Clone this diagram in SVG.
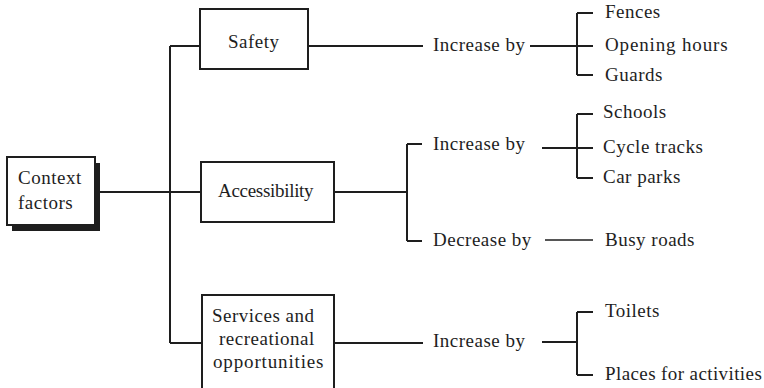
<svg xmlns="http://www.w3.org/2000/svg" width="764" height="388" viewBox="0 0 764 388">
<style>
svg text, text{font-family:'Liberation Serif','Times New Roman',serif !important;font-size:19px;fill:#1e1e1e;letter-spacing:0.5px}
.box{fill:#fff;stroke:#1e1e1e;stroke-width:2}
.ln{stroke:#1e1e1e;stroke-width:2;fill:none}
.thin{stroke:#1e1e1e;stroke-width:1.3;fill:none}
text.wide{letter-spacing:0.85px}
text.pl{letter-spacing:0.4px}
text.tight{letter-spacing:-0.3px}
</style>
<rect width="764" height="388" fill="#fff"/>
<g id="connectors">
<path class="ln" d="M95 192H201"/>
<path class="ln" d="M170 46V343M170 46H200M170 343H202"/>
<path class="ln" d="M308 46H423"/>
<path class="ln" d="M530 46H593M577 13V75M577 13H593M577 75H593"/>
<path class="ln" d="M334 192H407M407 144V241M407 144H422M407 241H422"/>
<path class="ln" d="M542 148H593M577 114V178M577 114H593M577 178H593"/>
<path class="thin" d="M545 240H593"/>
<path class="ln" d="M334 343H423"/>
<path class="ln" d="M542 342H577M577 312V375M577 312H593M577 375H593"/>
</g>
<g id="context">
<rect x="12" y="163" width="88" height="68" fill="#1e1e1e"/>
<rect class="box" x="7" y="157" width="88" height="68"/>
<text x="18" y="184" style="font-family:'Liberation Serif',serif">Context</text>
<text x="18" y="209" style="font-family:'Liberation Serif',serif">factors</text>
</g>
<g id="safety">
<rect class="box" x="200" y="9" width="108" height="60"/>
<text x="228" y="48" style="font-family:'Liberation Serif',serif">Safety</text>
</g>
<g id="accessibility">
<rect class="box" x="201" y="162" width="133" height="60"/>
<text class="tight" x="218" y="197" style="font-family:'Liberation Serif',serif">Accessibility</text>
</g>
<g id="services">
<rect class="box" x="202" y="295" width="132" height="100"/>
<text x="212" y="322" style="font-family:'Liberation Serif',serif">Services and</text>
<text x="219" y="345" style="font-family:'Liberation Serif',serif">recreational</text>
<text class="wide" x="213" y="368" style="font-family:'Liberation Serif',serif">opportunities</text>
</g>
<g id="safety-increase"><text x="433" y="51" style="font-family:'Liberation Serif',serif">Increase by</text></g>
<g id="fences"><text x="605" y="18" style="font-family:'Liberation Serif',serif">Fences</text></g>
<g id="opening-hours"><text class="wide" x="605" y="51" style="font-family:'Liberation Serif',serif">Opening hours</text></g>
<g id="guards"><text x="605" y="81" style="font-family:'Liberation Serif',serif">Guards</text></g>
<g id="access-increase"><text x="433" y="150" style="font-family:'Liberation Serif',serif">Increase by</text></g>
<g id="schools"><text x="603" y="118" style="font-family:'Liberation Serif',serif">Schools</text></g>
<g id="cycle-tracks"><text x="603" y="153" style="font-family:'Liberation Serif',serif">Cycle tracks</text></g>
<g id="car-parks"><text x="603" y="183" style="font-family:'Liberation Serif',serif">Car parks</text></g>
<g id="access-decrease"><text x="433" y="246" style="font-family:'Liberation Serif',serif">Decrease by</text></g>
<g id="busy-roads"><text x="605" y="246" style="font-family:'Liberation Serif',serif">Busy roads</text></g>
<g id="services-increase"><text x="433" y="347" style="font-family:'Liberation Serif',serif">Increase by</text></g>
<g id="toilets"><text x="605" y="317" style="font-family:'Liberation Serif',serif">Toilets</text></g>
<g id="places"><text class="pl" x="605" y="380" style="font-family:'Liberation Serif',serif">Places for activities</text></g>
</svg>
